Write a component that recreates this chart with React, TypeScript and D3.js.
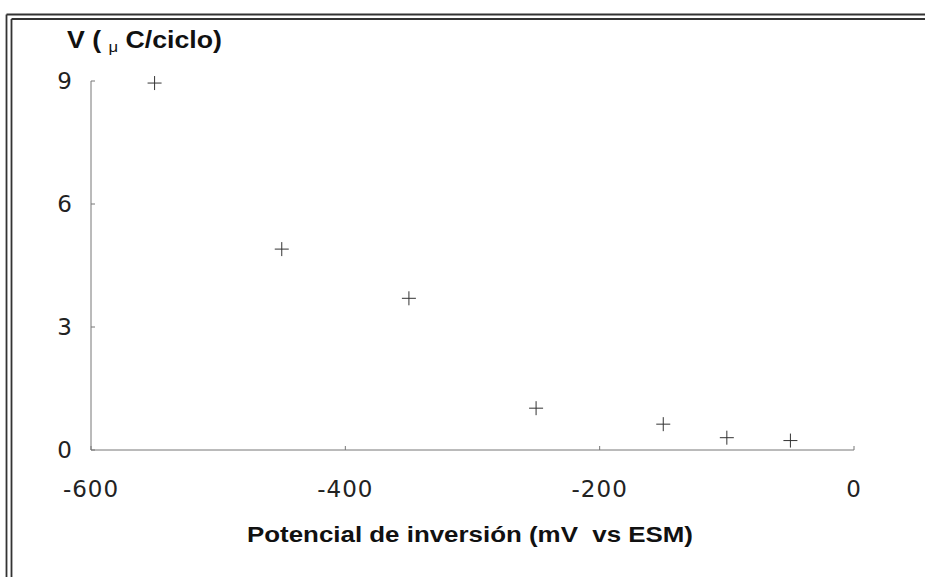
import React from "react";
import * as d3 from "d3";

const potentials = [-550, -450, -350, -250, -150, -100, -50];
const velocities = [8.95, 4.9, 3.7, 1.02, 0.63, 0.3, 0.23];
const xTicks = [-600, -400, -200, 0];
const yTicks = [0, 3, 6, 9];
const yTitle = "V ( ";
const yTitleMu = "μ";
const yTitleRest = " C/ciclo)";
const xTitle = "Potencial de inversión (mV  vs ESM)";

const W = 925;
const H = 577;

export default function App() {
  const x = d3.scaleLinear().domain([-600, 0]).range([91, 854]);
  const y = d3.scaleLinear().domain([0, 9]).range([450, 81]);
  const font = "'Liberation Sans', Arial, sans-serif";
  const tickFont = "'DejaVu Sans', sans-serif";
  const axisColor = "#777";
  const markColor = "#333";
  const s = 7;

  return (
    <svg width={W} height={H} style={{ position: "absolute", left: 0, top: 0, background: "#fff" }}>
      {/* double frame */}
      <g stroke="#333" fill="none">
        <line x1={6.5} y1={14.5} x2={W} y2={14.5} strokeWidth={1.8} />
        <line x1={11.5} y1={19} x2={W} y2={19} strokeWidth={1.8} />
        <line x1={6.5} y1={14.5} x2={6.5} y2={H} strokeWidth={1.8} />
        <line x1={11.5} y1={19} x2={11.5} y2={H} strokeWidth={1.8} />
      </g>

      {/* axes */}
      <g stroke={axisColor} strokeWidth={1} fill="none">
        <line x1={x(-600)} y1={y(0)} x2={x(0)} y2={y(0)} />
        <line x1={x(-600)} y1={y(0)} x2={x(-600)} y2={y(9)} />
        {yTicks.map((t) => (
          <line key={"yt" + t} x1={x(-600)} y1={y(t)} x2={x(-600) + 4} y2={y(t)} />
        ))}
        {xTicks.map((t) => (
          <line key={"xt" + t} x1={x(t)} y1={y(0)} x2={x(t)} y2={y(0) - 4} />
        ))}
      </g>

      {/* y tick labels */}
      {yTicks.map((t) => (
        <text
          key={"yl" + t}
          x={72}
          y={y(t) + 8}
          textAnchor="end"
          fontFamily={tickFont}
          fontSize={23}
          fill="#222"
        >
          {t}
        </text>
      ))}

      {/* x tick labels */}
      {xTicks.map((t) => (
        <text
          key={"xl" + t}
          x={x(t)}
          y={497}
          textAnchor="middle"
          fontFamily={tickFont}
          fontSize={23}
          letterSpacing={1}
          fill="#222"
        >
          {t}
        </text>
      ))}

      {/* markers */}
      <g stroke={markColor} strokeWidth={1}>
        {potentials.map((p, i) => (
          <g key={"m" + i}>
            <line x1={x(p) - s} y1={y(velocities[i])} x2={x(p) + s} y2={y(velocities[i])} />
            <line x1={x(p)} y1={y(velocities[i]) - s} x2={x(p)} y2={y(velocities[i]) + s} />
          </g>
        ))}
      </g>

      {/* titles */}
      <text x={67} y={48} fontFamily={font} fontSize={24} fontWeight="bold" fill="#111"
        textLength={155} lengthAdjust="spacingAndGlyphs">
        {yTitle}
        <tspan fontSize={15} fontWeight="normal" dy={4}>{yTitleMu}</tspan>
        <tspan dy={-4}>{yTitleRest}</tspan>
      </text>
      <text x={247} y={542} fontFamily={font} fontSize={22} fontWeight="bold" fill="#111"
        xmlSpace="preserve" textLength={446} lengthAdjust="spacingAndGlyphs">
        {xTitle}
      </text>
    </svg>
  );
}
